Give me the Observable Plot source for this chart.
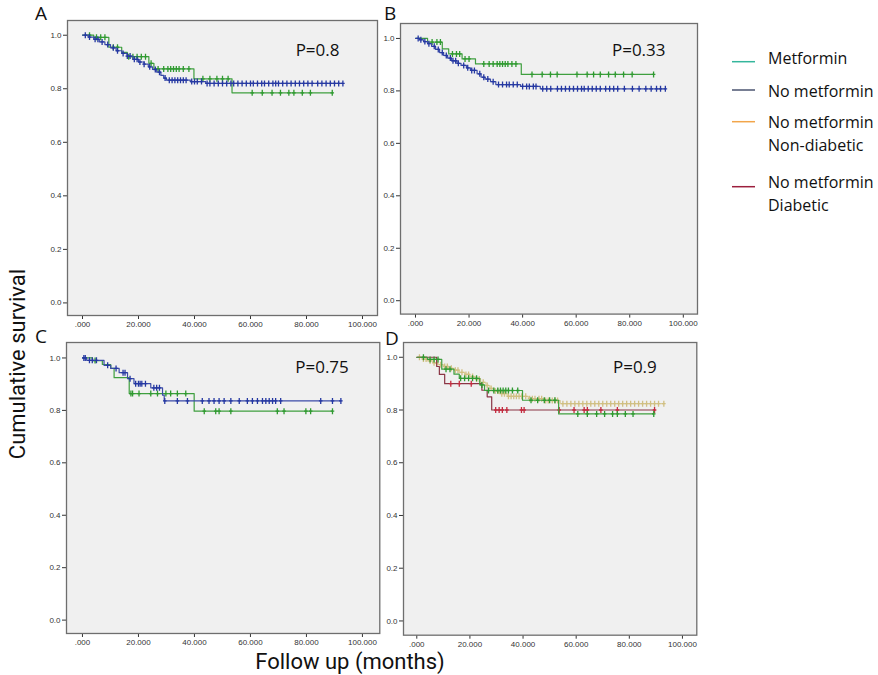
<!DOCTYPE html>
<html><head><meta charset="utf-8">
<script src="https://cdn.jsdelivr.net/npm/d3@7"></script>
<script src="https://cdn.jsdelivr.net/npm/@observablehq/plot@0.6"></script>
<style>
body{margin:0;background:#fff;}
#root{position:relative;width:878px;height:675px;overflow:hidden;background:#fff;}
.pw{position:absolute;}
#overlay{position:absolute;left:0;top:0;}
</style></head><body><div id="root"></div>
<script>
// ---------- data ----------
const xTicks = [0, 20, 40, 60, 80, 100];
const yTicks = [0, 0.2, 0.4, 0.6, 0.8, 1.0];
const panelLabels = ["A", "B", "C", "D"];
const pValues = ["P=0.8", "P=0.33", "P=0.75", "P=0.9"];
const legendLabels = [["Metformin"], ["No metformin"], ["No metformin", "Non-diabetic"], ["No metformin", "Diabetic"]];
const xTitle = "Follow up (months)";
const yTitle = "Cumulative survival";

// Panel A / D : metformin (green)
const metforminSteps = [[0,1],[4,0.992],[9.4,0.955],[14,0.936],[16,0.92],[23.7,0.895],[25.5,0.874],[39.8,0.837],[53.4,0.785],[89.2,0.785]];
const metforminCensor = [2.5,5,6.5,8,11,12.5,16.5,18,19.5,21,22.5,24.5,27,29,30.5,31.5,32.5,33.5,34.5,36,38,43,45.5,48,50,52,60.6,64.2,67.7,70.7,73.7,75.5,78.5,81.4,89.2];
// Panel A : no metformin (blue)
const noMetSteps = [[0,1],[2,0.993],[4,0.985],[6,0.975],[8,0.965],[10,0.953],[12,0.942],[14,0.932],[16,0.922],[18,0.91],[20,0.9],[22,0.892],[23.5,0.882],[25,0.872],[26.5,0.862],[28,0.85],[29,0.84],[30,0.832],[38.5,0.827],[44,0.82],[93,0.82]];
const noMetCensor = [1,2.5,4.5,5.5,7,9,11,12.5,14.5,16,17,18.5,19.5,20.5,22,24,26,27.5,29.5,31,32,33,34,35,36,37,39,40,41,42.5,44.5,45.5,47,48.5,50,51.5,53,54,55.5,57,58.5,60,61,62.5,64,65,66.5,68,69,70,71.5,73,74.5,76,77.5,79,80.5,82,84,85.5,87,88.5,90,91.5,93];
// Panel B
const metBSteps = [[0,1],[4.5,0.986],[10,0.96],[12.4,0.941],[17.4,0.922],[22.4,0.903],[39.5,0.863],[88.9,0.863]];
const metBCensor = [6.2,8,9.3,13.8,15.3,16.5,18.5,20,25.5,27.5,29,30.5,31.5,32.5,33.5,34.5,36,37.5,43.5,47.3,50.4,52.9,60.3,64.1,66.5,69,72.1,74.6,77.7,80.9,88.9];
const noMetBSteps = [[0,1],[1.5,0.995],[3,0.988],[4.5,0.98],[6,0.97],[7.5,0.958],[9,0.946],[10.5,0.935],[12,0.925],[13.5,0.915],[15.5,0.905],[17,0.897],[19,0.888],[20.5,0.878],[23,0.865],[24.5,0.852],[26,0.845],[28,0.835],[30,0.824],[39.2,0.817],[46.6,0.808],[93.3,0.808]];
const noMetBCensor = [1,2,3.5,5,7,8.5,10,11.5,13,14,15,16,18,19.5,21,22,24,25.5,27,29,31,32.5,34,35,36.5,38,40,41.5,42.5,44,45,47.5,49,50.5,53,54.5,56,57.5,59,60.5,62,63,64.5,66,67.5,69,71,72.5,74,75.5,78,81,83.5,86,88,90,91.5,93.3];
// Panel C
const metCSteps = [[0,1],[3.6,0.99],[7.1,0.975],[10.1,0.96],[11.3,0.925],[16.7,0.864],[39.9,0.797],[89.3,0.797]];
const metCCensor = [4.5,17.3,17.9,20.2,24.4,26.8,29.8,31.5,33.9,36.9,43.5,47.6,48.8,53,69.6,72,79.8,81.5,89.3];
const noMetCSteps = [[0,1],[1.5,0.991],[7.7,0.972],[10.1,0.96],[13.1,0.944],[16.1,0.921],[18.4,0.902],[24.4,0.886],[28.6,0.858],[29.2,0.836],[92.3,0.836]];
const noMetCCensor = [0.5,1,2.5,3.5,5,9,12,14.5,15.2,17,19,20,20.6,21.2,22.5,25.5,26.5,27.5,29.4,33.9,37.5,42.8,45.2,47,48.8,50.6,53,56,58.9,60.7,62.5,64.3,65.5,66.7,67.9,69,70.8,85.1,89.3,92.3];
// Panel D
const nonDiabSteps = [[0,1],[2,0.993],[4,0.986],[6,0.979],[8,0.972],[10,0.965],[12,0.958],[14,0.951],[16,0.943],[18,0.935],[20,0.927],[22,0.918],[24,0.905],[26,0.893],[27.5,0.882],[29,0.872],[31,0.862],[34,0.852],[42,0.843],[48,0.836],[54,0.824],[93,0.824]];
const nonDiabCensor = [1,2.5,3.5,5,6.5,7.5,9,10.5,11.5,13,14.5,15.5,17,18.5,19.5,21,22.5,23.5,25,26.5,28,29.5,30.5,32,33,34.5,35.5,36.5,37.5,38.5,39.5,41,42.5,43.5,44.5,46,47,48.5,49.5,51,52,53,55,56.5,58,59.5,61,62.5,64,65.5,67,68.5,70,71.5,73,74.5,76,77.5,79,80.5,82,83.5,85,86.5,88,89.5,91,93];
const diabSteps = [[0,1],[7.5,0.965],[8.5,0.935],[10.5,0.9],[24.5,0.875],[26.5,0.85],[28.2,0.8],[89.5,0.8]];
const diabCensor = [12.8,16,20.5,29.7,31,32.2,33.9,39.4,40.4,53.6,59.2,63,64.2,69.3,75.5,89.5];

// ---------- styles ----------
const C = {
  green: {line: "#3f9f3f", mark: "#2f9a30"},
  blue:  {line: "#3b4ba8", mark: "#2538a2"},
  tan:   {line: "#d9cc98", mark: "#d0bf82"},
  red:   {line: "#8a3545", mark: "#c42a3e"}
};
const legendColors = ["#34b69c", "#4b5570", "#f2a54a", "#9c1f3d"];

function survAt(steps, t) {
  let s = steps[0][1];
  for (const [tt, ss] of steps) if (tt <= t) s = ss;
  return s;
}
const censorSymbol = {
  draw(ctx, size) {
    const r = Math.sqrt(size / Math.PI);
    ctx.moveTo(0, -r); ctx.lineTo(0, r);
    ctx.moveTo(-r * 0.6, 0); ctx.lineTo(r * 0.6, 0);
  }
};
function series(steps, censor, col) {
  const cens = censor.map(t => ({t, s: survAt(steps, t)}));
  return [
    Plot.line(steps, {x: d => d[0], y: d => d[1], curve: "step-after", stroke: col.line, strokeWidth: 1.2}),
    Plot.dot(cens, {x: "t", y: "s", symbol: censorSymbol, r: 3, stroke: col.mark, fill: "none", strokeWidth: 1.3})
  ];
}

const panels = [
  {frame: [67, 20, 377, 315], xd: [-5.36, 105.36], yd: [-0.047, 1.055], p: [-38, 23],
   series: [[metforminSteps, metforminCensor, C.green], [noMetSteps, noMetCensor, C.blue]]},
  {frame: [400, 22.7, 697, 313.3], xd: [-5.6, 105.3], yd: [-0.051, 1.057], p: [-32, 20.3],
   series: [[metBSteps, metBCensor, C.green], [noMetBSteps, noMetBCensor, C.blue]]},
  {frame: [65.7, 342.3, 379, 633.3], xd: [-5.7, 106.2], yd: [-0.051, 1.059], p: [-31, 18.7],
   series: [[metCSteps, metCCensor, C.green], [noMetCSteps, noMetCCensor, C.blue]]},
  {frame: [402.7, 342.3, 696, 635], xd: [-5.0, 105.4], yd: [-0.054, 1.056], p: [-40, 18.7],
   series: [[nonDiabSteps, nonDiabCensor, C.tan], [diabSteps, diabCensor, C.red], [metforminSteps, metforminCensor, C.green]]}
];

const root = document.getElementById("root");
const mL = 36, mR = 3, mT = 3, mB = 24;
panels.forEach((cfg, i) => {
  const [l, t, r, b] = cfg.frame;
  const w = (r - l) + mL + mR, h = (b - t) + mT + mB;
  const chart = Plot.plot({
    width: w, height: h,
    marginLeft: mL, marginRight: mR, marginTop: mT, marginBottom: mB,
    style: {background: "transparent", fontFamily: "'Liberation Sans', Arial, sans-serif", fontSize: "8px", color: "#333", overflow: "visible"},
    x: {domain: cfg.xd, ticks: xTicks, tickFormat: d => d === 0 ? ".000" : d.toFixed(3), tickSize: 4, tickPadding: 2, label: null},
    y: {domain: cfg.yd, ticks: yTicks, tickFormat: d => d.toFixed(1), tickSize: 4, tickPadding: 2, label: null},
    marks: [
      Plot.frame({fill: "#f0f0f0"}),
      ...cfg.series.flatMap(s => series(...s)),
      Plot.text([pValues[i]], {frameAnchor: "top-right", textAnchor: "end", lineAnchor: "top",
        dx: cfg.p[0], dy: cfg.p[1], fontSize: 17, fill: "#111", fontFamily: "'Open Sans', sans-serif"}),
      Plot.frame({stroke: "#6e6e6e", strokeWidth: 1.3})
    ]
  });
  const wrap = document.createElement("div");
  wrap.className = "pw";
  wrap.style.left = (l - mL) + "px";
  wrap.style.top = (t - mT) + "px";
  wrap.style.width = w + "px";
  wrap.style.height = h + "px";
  wrap.appendChild(chart);
  root.appendChild(wrap);
});

// ---------- overlay text: panel letters, axis titles, legend ----------
const ns = "http://www.w3.org/2000/svg";
const ov = document.createElementNS(ns, "svg");
ov.setAttribute("id", "overlay");
ov.setAttribute("width", 878); ov.setAttribute("height", 675);
ov.style.fontFamily = "'Open Sans', sans-serif";
root.appendChild(ov);
function txt(s, x, y, size, attrs = {}) {
  const e = document.createElementNS(ns, "text");
  e.textContent = s;
  e.setAttribute("x", x); e.setAttribute("y", y);
  e.setAttribute("font-size", size);
  e.setAttribute("fill", "#111");
  for (const k in attrs) e.setAttribute(k, attrs[k]);
  ov.appendChild(e);
  return e;
}
const letterPos = [[35, 20], [384, 20], [35, 343], [385, 345]];
panelLabels.forEach((s, i) => txt(s, letterPos[i][0], letterPos[i][1], 19));
txt(xTitle, 350, 669.3, 22, {"text-anchor": "middle", "font-family": "Roboto, sans-serif"});
txt(yTitle, 0, 0, 22, {"text-anchor": "middle", "font-family": "Roboto, sans-serif", transform: "translate(25,364) rotate(-90)"});

const legendRows = [
  {line: 61.7, base: [63.5]},
  {line: 90, base: [96.5]},
  {line: 121.7, base: [127.8, 151]},
  {line: 186.7, base: [187.5, 210.5]}
];
legendLabels.forEach((lines, i) => {
  const ln = document.createElementNS(ns, "line");
  ln.setAttribute("x1", 732); ln.setAttribute("x2", 755);
  ln.setAttribute("y1", legendRows[i].line); ln.setAttribute("y2", legendRows[i].line);
  ln.setAttribute("stroke", legendColors[i]); ln.setAttribute("stroke-width", 1.5);
  ov.appendChild(ln);
  lines.forEach((s, j) => txt(s, 768, legendRows[i].base[j], 16));
});
</script></body></html>
